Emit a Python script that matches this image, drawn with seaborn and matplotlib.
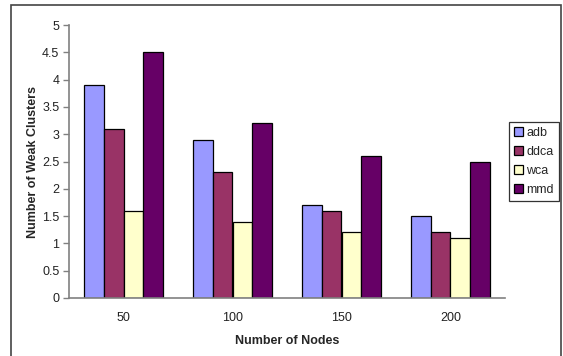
import matplotlib
matplotlib.use("Agg")
import matplotlib.pyplot as plt
from matplotlib.patches import Rectangle
import seaborn as sns
import pandas as pd

nodes = ["50", "100", "150", "200"]
adb = [3.9, 2.9, 1.7, 1.5]
ddca = [3.1, 2.3, 1.6, 1.2]
wca = [1.6, 1.4, 1.2, 1.1]
mmd = [4.5, 3.2, 2.6, 2.5]
series_names = ["adb", "ddca", "wca", "mmd"]
colors = ["#9999FF", "#993366", "#FFFFCC", "#660066"]
y_ticks = [0, 0.5, 1, 1.5, 2, 2.5, 3, 3.5, 4, 4.5, 5]

rows = []
for name, vals in zip(series_names, [adb, ddca, wca, mmd]):
    for n, v in zip(nodes, vals):
        rows.append({"Nodes": n, "Algorithm": name, "Clusters": v})
df = pd.DataFrame(rows)

sns.set_style("white")
plt.rcParams["font.family"] = ["Liberation Sans", "DejaVu Sans"]

W, H = 563, 356
fig = plt.figure(figsize=(W / 100, H / 100), dpi=100)
ax = fig.add_axes([69 / W, 1 - 298 / H, (505 - 69) / W, (298 - 25) / H])

sns.barplot(data=df, x="Nodes", y="Clusters", hue="Algorithm",
            order=nodes, hue_order=series_names, palette=colors,
            width=0.73, gap=0, edgecolor="black", linewidth=0.9,
            saturation=1, ax=ax, legend=True)

ax.set_xlim(-0.5, 3.5)
ax.set_ylim(0, 5)
ax.set_yticks(y_ticks)
ax.set_yticklabels([f"{t:g}" for t in y_ticks])

# group separators as minor ticks on the category axis
ax.set_xticks([-0.5, 0.5, 1.5, 2.5, 3.5], minor=True)
ax.tick_params(axis="x", which="major", length=0, pad=10, labelsize=9, labelcolor="#222222")
ax.tick_params(axis="x", which="minor", length=4, width=1, color="#808080", direction="out")
ax.tick_params(axis="y", which="major", length=4, width=1, color="#808080",
               direction="out", labelsize=9, labelcolor="#222222", pad=3, left=True)

for side in ["top", "right"]:
    ax.spines[side].set_visible(False)
for side in ["left", "bottom"]:
    ax.spines[side].set_color("#808080")
    ax.spines[side].set_linewidth(1.2)

ax.set_xlabel("Number of Nodes", fontsize=9, fontweight="bold", labelpad=8)
ax.set_ylabel("Number of Weak Clusters", fontsize=9, fontweight="bold", labelpad=2)

leg = ax.legend(loc="upper left", bbox_to_anchor=(509 / W, 1 - 122 / H),
                bbox_transform=fig.transFigure, frameon=True, fancybox=False,
                handlelength=0.7, handleheight=0.7, handletextpad=0.3,
                borderpad=0.4, labelspacing=0.55, fontsize=9, borderaxespad=0)
leg.get_frame().set_edgecolor("black")
leg.get_frame().set_linewidth(0.9)

# outer chart-area border
fig.patches.append(Rectangle((11 / W, -0.1), (561 - 11) / W, 1.1 - 5 / H,
                             transform=fig.transFigure, fill=False,
                             edgecolor="#444444", linewidth=1.2))

fig.savefig("out.png", dpi=100)
